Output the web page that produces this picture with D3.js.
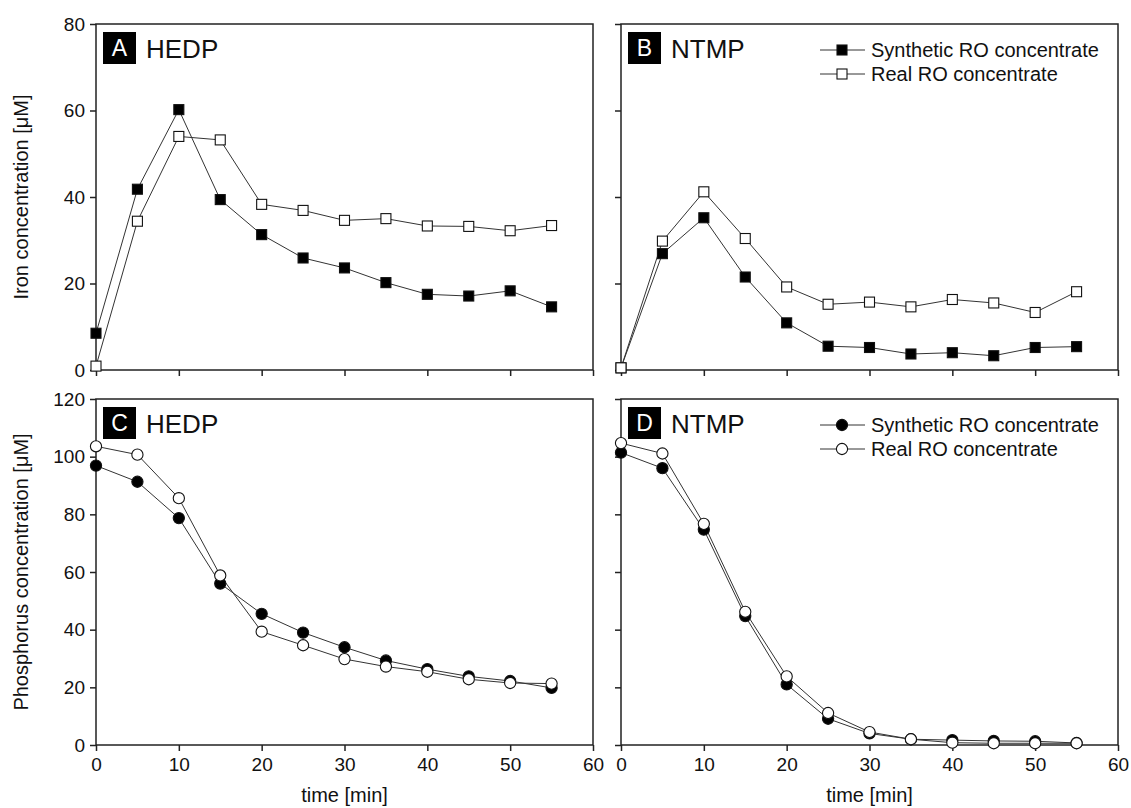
<!DOCTYPE html>
<html>
<head>
<meta charset="utf-8">
<script src="https://cdn.jsdelivr.net/npm/d3@7"></script>
<style>
  body { margin: 0; background: #fff; }
  text { font-family: "Liberation Sans", Arial, Helvetica, sans-serif; fill: #111; }
</style>
</head>
<body>
<svg id="chart" width="1131" height="808"></svg>
<script>
// sampling times [min]
var time = [0, 5, 10, 15, 20, 25, 30, 35, 40, 45, 50, 55];

// iron concentration [uM]
var ironHedpSynthetic = [8.5, 41.8, 60.2, 39.4, 31.3, 25.9, 23.6, 20.2, 17.5, 17.1, 18.3, 14.6];
var ironHedpReal      = [0.9, 34.4, 54.0, 53.2, 38.3, 36.9, 34.6, 35.0, 33.3, 33.2, 32.2, 33.4];
var ironNtmpSynthetic = [0.5, 26.9, 35.2, 21.5, 10.9, 5.5, 5.2, 3.7, 4.0, 3.3, 5.2, 5.4];
var ironNtmpReal      = [0.5, 29.8, 41.2, 30.4, 19.2, 15.2, 15.7, 14.6, 16.3, 15.5, 13.3, 18.1];

// phosphorus concentration [uM]
var phosHedpSynthetic = [96.9, 91.3, 78.7, 56.0, 45.5, 39.0, 33.9, 29.3, 26.3, 23.8, 22.2, 19.8];
var phosHedpReal      = [103.6, 100.7, 85.6, 58.8, 39.3, 34.6, 29.8, 27.2, 25.4, 22.8, 21.5, 21.3];
var phosNtmpSynthetic = [101.4, 96.0, 74.7, 44.7, 21.0, 9.1, 4.0, 2.0, 1.7, 1.4, 1.3, 0.7];
var phosNtmpReal      = [104.7, 101.1, 76.7, 46.2, 23.8, 11.1, 4.5, 2.0, 0.8, 0.6, 0.6, 0.6];

var xTicks = [0, 10, 20, 30, 40, 50, 60];
var ironTicks = [0, 20, 40, 60, 80];
var phosTicks = [0, 20, 40, 60, 80, 100, 120];
var legendLabels = ["Synthetic RO concentrate", "Real RO concentrate"];

var svg = d3.select("#chart");
var pw = 497, ph = 346;

var panels = [
  { x0: 96,  y0: 24,  letter: "A", name: "HEDP", yMax: 80,  ticks: ironTicks, synth: ironHedpSynthetic, real: ironHedpReal, marker: "square", xLabels: false, yLabels: true,  legend: false },
  { x0: 621, y0: 24,  letter: "B", name: "NTMP", yMax: 80,  ticks: ironTicks, synth: ironNtmpSynthetic, real: ironNtmpReal, marker: "square", xLabels: false, yLabels: false, legend: true },
  { x0: 96,  y0: 399, letter: "C", name: "HEDP", yMax: 120, ticks: phosTicks, synth: phosHedpSynthetic, real: phosHedpReal, marker: "circle", xLabels: true,  yLabels: true,  legend: false },
  { x0: 621, y0: 399, letter: "D", name: "NTMP", yMax: 120, ticks: phosTicks, synth: phosNtmpSynthetic, real: phosNtmpReal, marker: "circle", xLabels: true,  yLabels: false, legend: true }
];

function drawMarker(g, type, x, y, filled) {
  if (type === "square") {
    g.append("rect")
      .attr("x", x - 5).attr("y", y - 5)
      .attr("width", 10).attr("height", 10)
      .attr("fill", filled ? "#000" : "#fff")
      .attr("stroke", "#111").attr("stroke-width", 1.1);
  } else {
    g.append("circle")
      .attr("cx", x).attr("cy", y).attr("r", 5.6)
      .attr("fill", filled ? "#000" : "#fff")
      .attr("stroke", "#111").attr("stroke-width", 1.1);
  }
}

panels.forEach(function(p) {
  var x = d3.scaleLinear().domain([0, 60]).range([p.x0, p.x0 + pw]);
  var y = d3.scaleLinear().domain([0, p.yMax]).range([p.y0 + ph, p.y0]);

  // axes
  var xAxis = d3.axisBottom(x).tickValues(xTicks).tickSize(6).tickSizeOuter(0).tickPadding(7);
  if (!p.xLabels) xAxis.tickFormat("");
  var yAxis = d3.axisLeft(y).tickValues(p.ticks).tickSize(6).tickSizeOuter(0).tickPadding(5);
  if (!p.yLabels) yAxis.tickFormat("");

  var gx = svg.append("g").attr("transform", "translate(0," + (p.y0 + ph) + ")").call(xAxis);
  var gy = svg.append("g").attr("transform", "translate(" + p.x0 + ",0)").call(yAxis);
  [gx, gy].forEach(function(g) {
    g.select(".domain").remove();
    g.selectAll(".tick line").attr("stroke", "#222").attr("stroke-width", 1.5);
    g.selectAll(".tick text").attr("font-size", 19).attr("fill", "#111")
      .attr("font-family", "'Liberation Sans', Arial, sans-serif");
  });

  // frame
  svg.append("rect")
    .attr("x", p.x0).attr("y", p.y0)
    .attr("width", pw).attr("height", ph)
    .attr("fill", "none").attr("stroke", "#222").attr("stroke-width", 1.5);

  // data
  var line = d3.line().x(function(d, i) { return x(time[i]); }).y(function(d) { return y(d); });
  var gd = svg.append("g");
  [p.synth, p.real].forEach(function(series) {
    gd.append("path").datum(series)
      .attr("d", line)
      .attr("fill", "none").attr("stroke", "#333").attr("stroke-width", 1);
  });
  p.synth.forEach(function(v, i) { drawMarker(gd, p.marker, x(time[i]), y(v), true); });
  p.real.forEach(function(v, i) { drawMarker(gd, p.marker, x(time[i]), y(v), false); });

  // panel label
  svg.append("rect")
    .attr("x", p.x0 + 7).attr("y", p.y0 + 8)
    .attr("width", 33).attr("height", 32).attr("fill", "#000");
  svg.append("text")
    .attr("x", p.x0 + 23.5).attr("y", p.y0 + 32)
    .attr("text-anchor", "middle").attr("font-size", 23)
    .style("fill", "#fff").text(p.letter);
  svg.append("text")
    .attr("x", p.x0 + 50).attr("y", p.y0 + 34)
    .attr("font-size", 26).text(p.name);

  // legend
  if (p.legend) {
    [0, 1].forEach(function(k) {
      var ly = p.y0 + 26 + k * 24;
      svg.append("line")
        .attr("x1", p.x0 + 199).attr("x2", p.x0 + 244)
        .attr("y1", ly).attr("y2", ly)
        .attr("stroke", "#333").attr("stroke-width", 1);
      drawMarker(svg, p.marker, p.x0 + 221, ly, k === 0);
      svg.append("text")
        .attr("x", p.x0 + 250).attr("y", ly + 7)
        .attr("font-size", 20).text(legendLabels[k]);
    });
  }

  if (p.xLabels) {
    svg.append("text")
      .attr("x", p.x0 + pw / 2).attr("y", 802)
      .attr("text-anchor", "middle").attr("font-size", 20)
      .text("time [min]");
  }
});

// y axis titles
svg.append("text")
  .attr("transform", "translate(28," + (24 + ph / 2) + ") rotate(-90)")
  .attr("text-anchor", "middle").attr("font-size", 20)
  .text("Iron concentration [\u03bcM]");
svg.append("text")
  .attr("transform", "translate(28," + (399 + ph / 2) + ") rotate(-90)")
  .attr("text-anchor", "middle").attr("font-size", 20)
  .text("Phosphorus concentration [\u03bcM]");
</script>
</body>
</html>
